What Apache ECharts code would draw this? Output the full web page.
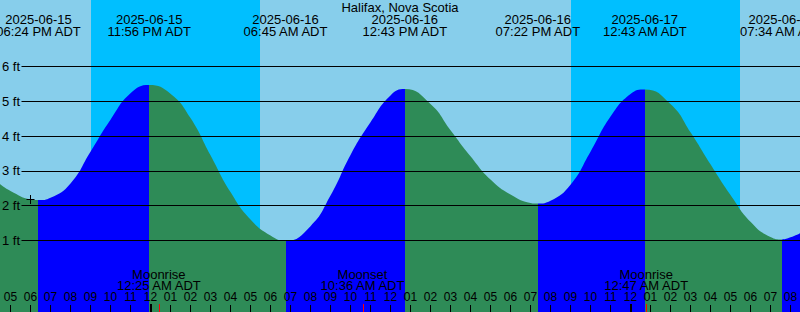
<!DOCTYPE html>
<html><head><meta charset="utf-8">
<style>html,body{margin:0;padding:0;background:#87CEEB;overflow:hidden}#c{width:800px;height:312px}</style>
<script src="https://cdn.jsdelivr.net/npm/echarts@6/dist/echarts.min.js"></script>
</head><body><div id="c"></div>
<script>
// ---------------- data ----------------
const stationName = 'Halifax, Nova Scotia';

// tide level samples along the curve (hours since 2025-06-15 00:00 ADT, feet)
const sampleHours  = [16.475, 17, 18, 19, 20, 21, 22, 23, 25, 26, 27, 28, 29, 30, 32, 33, 34, 35, 36,
                      38, 39, 40, 41, 42, 43, 44, 45, 46, 47, 48, 50, 51, 52, 53, 54, 55, 56, 56.475];
const sampleLevels = [2.62, 2.42, 2.18, 2.23, 2.64, 3.55, 4.47, 5.23, 5.22, 4.52, 3.45, 2.39, 1.60, 1.14, 1.41, 2.29, 3.46, 4.40, 5.17,
                      4.92, 4.17, 3.42, 2.75, 2.32, 2.08, 2.14, 2.60, 3.55, 4.56, 5.21, 4.92, 4.11, 3.19, 2.31, 1.54, 1.10, 1.09, 1.21];

// high / low tide events
const tideDates  = ['2025-06-15', '2025-06-15', '2025-06-16', '2025-06-16', '2025-06-16', '2025-06-17', '2025-06-17'];
const tideTimes  = ['06:24 PM ADT', '11:56 PM ADT', '06:45 AM ADT', '12:43 PM ADT', '07:22 PM ADT', '12:43 AM ADT', '07:34 AM ADT'];
const tideLevels = [2.16, 5.47, 0.99, 5.35, 2.06, 5.34, 1.03];

// night periods (hours since 2025-06-15 00:00 ADT)
const sunsetHours  = [21.025, 45.025];
const sunriseHours = [29.475, 53.475];

// moon events
const moonEvents = ['Moonrise', 'Moonset', 'Moonrise'];
const moonDates  = ['2025-06-16', '2025-06-16', '2025-06-17'];
const moonTimes  = ['12:25 AM ADT', '10:36 AM ADT', '12:47 AM ADT'];

// axes ticks
const levelTicks = [1, 2, 3, 4, 5, 6];
const hourTicks  = [17, 18, 19, 20, 21, 22, 23, 24, 25, 26, 27, 28, 29, 30, 31, 32, 33, 34, 35, 36,
                    37, 38, 39, 40, 41, 42, 43, 44, 45, 46, 47, 48, 49, 50, 51, 52, 53, 54, 55, 56];
const hourLabels = ['05','06','07','08','09','10','11','12','01','02','03','04','05','06','07','08','09','10','11','12',
                    '01','02','03','04','05','06','07','08','09','10','11','12','01','02','03','04','05','06','07','08'];

// current-time marker
const markerHour = 18;
const markerLevel = 2.17;

// ---------------- layout ----------------
const X_MIN = 16.475, X_MAX = 56.475;
const Y_MIN = -1.055, Y_MAX = 7.911;
const LINE_START = X_MIN + 21.5 / 20;
const FONT = '"Liberation Sans", Arial, sans-serif';
const RISING = '#0000FF', FALLING = '#2E8B57', NIGHT = '#00BFFF', DAY = '#87CEEB';

const dayOffset = {'2025-06-15': 0, '2025-06-16': 24, '2025-06-17': 48};
function toHours(date, time) {
  const m = time.match(/(\d+):(\d+) (AM|PM)/);
  let h = (+m[1]) % 12;
  if (m[3] === 'PM') h += 12;
  return dayOffset[date] + h + (+m[2]) / 60;
}
const tideHours = tideDates.map((d, i) => toHours(d, tideTimes[i]));
const moonHours = moonDates.map((d, i) => toHours(d, moonTimes[i]));

// merge samples and extremes into one curve
const curve = sampleHours.map((t, i) => [t, sampleLevels[i]])
  .concat(tideHours.map((t, i) => [t, tideLevels[i]]))
  .sort((a, b) => a[0] - b[0]);

// rising (low -> high) is blue, falling (high -> low) is green
const pieces = [];
const bounds = [X_MIN - 1].concat(tideHours, [X_MAX + 1]);
for (let i = 0; i < bounds.length - 1; i++) {
  const nextLevel = i < tideLevels.length ? tideLevels[i] : null;
  const prevLevel = i > 0 ? tideLevels[i - 1] : null;
  const rising = nextLevel !== null ? (prevLevel === null ? nextLevel > tideLevels[1] : nextLevel > prevLevel)
                                    : prevLevel < tideLevels[tideLevels.length - 2];
  pieces.push({gte: bounds[i], lt: bounds[i + 1], color: rising ? RISING : FALLING});
}

function txt(x, y, text, size, align) {
  return {
    type: 'text', x: x, y: y, silent: true,
    style: {
      text: text, fill: '#000', textFill: '#000',
      font: size + 'px ' + FONT,
      textAlign: align || 'center', align: align || 'center',
      textVerticalAlign: 'middle', verticalAlign: 'middle'
    }
  };
}

const series = [];

// tide fill (series 0, coloured by visualMap)
series.push({
  type: 'line', data: curve, z: 2, silent: true,
  smooth: 0.5, symbol: 'none', showSymbol: false,
  lineStyle: {width: 0, opacity: 0},
  areaStyle: {opacity: 1, origin: 'start'},
  markArea: {
    silent: true, z: -1,
    itemStyle: {color: NIGHT, opacity: 1, borderWidth: 0},
    data: sunsetHours.map((s, i) => [{xAxis: s}, {xAxis: sunriseHours[i]}])
  }
});

// level lines with labels
series.push({
  type: 'line', data: [], z: 3, silent: true,
  markLine: {
    silent: true, symbol: ['none', 'none'],
    lineStyle: {color: '#000', width: 1, type: 'solid', opacity: 1},
    label: {show: true, position: 'start', distance: 1.5, color: '#000', fontSize: 13, fontFamily: FONT, formatter: '{b}'},
    emphasis: {disabled: true},
    data: levelTicks.map(v => [{coord: [LINE_START, v], name: v + ' ft'}, {coord: [X_MAX, v]}])
  }
});

// tide event labels at top
series.push({
  type: 'custom', z: 5, silent: true, clip: false,
  data: tideHours.map((t, i) => [t, i]),
  renderItem: (params, api) => {
    const i = api.value(1);
    const p = api.coord([api.value(0), Y_MAX]);
    return {type: 'group', children: [
      txt(p[0], p[1] + 19.5, tideDates[i], 13),
      txt(p[0], p[1] + 31.3, tideTimes[i], 13)
    ]};
  }
});

// hour ticks and labels
series.push({
  type: 'custom', z: 6, silent: true, clip: false,
  data: hourTicks.map((t, i) => [t, i]),
  renderItem: (params, api) => {
    const t = api.value(0), i = api.value(1);
    const p = api.coord([t, Y_MIN]);
    const midnight = t % 24 === 0;
    const xp = midnight ? Math.round(p[0]) : Math.round(p[0] - 0.5) + 0.5;
    return {type: 'group', children: [
      {type: 'line', silent: true, shape: {x1: xp, y1: p[1], x2: xp, y2: p[1] - (midnight ? 8 : 7)},
       style: {stroke: '#000', lineWidth: midnight ? 2 : 1}},
      txt(p[0], p[1] - 14.7, hourLabels[i], 12)
    ]};
  }
});

// moon events
series.push({
  type: 'custom', z: 6, silent: true, clip: false,
  data: moonHours.map((t, i) => [t, i]),
  renderItem: (params, api) => {
    const i = api.value(1);
    const p = api.coord([api.value(0), Y_MIN]);
    const xp = Math.round(p[0]) + 0.5;
    return {type: 'group', children: [
      {type: 'line', silent: true, shape: {x1: xp, y1: p[1], x2: xp, y2: p[1] - 8},
       style: {stroke: '#FF0000', lineWidth: 1}},
      txt(p[0], p[1] - 38, moonEvents[i], 13),
      txt(p[0], p[1] - 26.5, moonTimes[i], 13)
    ]};
  }
});

// current-time marker "+"
series.push({
  type: 'custom', z: 6, silent: true, clip: false,
  data: [[markerHour, markerLevel]],
  renderItem: (params, api) => {
    const p = api.coord([api.value(0), api.value(1)]);
    const cx = Math.round(p[0] - 0.5) + 0.5, cy = Math.round(p[1] - 0.5) + 0.5;
    return {type: 'group', children: [
      {type: 'line', silent: true, shape: {x1: cx - 4, y1: cy, x2: cx + 4, y2: cy}, style: {stroke: '#000', lineWidth: 1}},
      {type: 'line', silent: true, shape: {x1: cx, y1: cy - 4.5, x2: cx, y2: cy + 4.5}, style: {stroke: '#000', lineWidth: 1}}
    ]};
  }
});

const chart = echarts.init(document.getElementById('c'), null, {renderer: 'svg', width: 800, height: 312});
chart.setOption({
  animation: false,
  backgroundColor: DAY,
  title: {
    text: stationName, left: 'center', top: 1, padding: 0,
    textStyle: {fontSize: 13, fontWeight: 'normal', color: '#000', fontFamily: FONT, lineHeight: 13}
  },
  grid: {left: 0, right: 0, top: 0, bottom: 0, containLabel: false},
  xAxis: {type: 'value', min: X_MIN, max: X_MAX, show: false},
  yAxis: {type: 'value', min: Y_MIN, max: Y_MAX, show: false},
  visualMap: {type: 'piecewise', show: false, dimension: 0, seriesIndex: 0, pieces: pieces},
  series: series
});
</script>
</body></html>
